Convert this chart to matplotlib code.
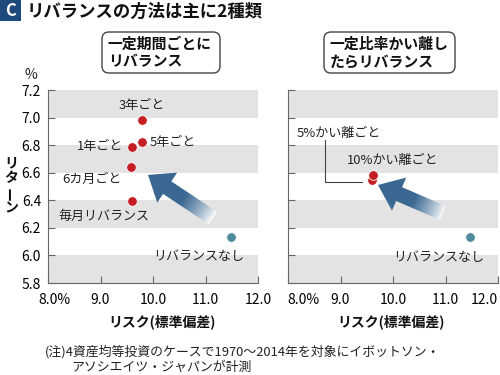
import numpy as np
import matplotlib
matplotlib.use("Agg")
import matplotlib.pyplot as plt
from matplotlib.patches import Polygon, FancyBboxPatch, Rectangle
from matplotlib.transforms import ScaledTranslation

plt.rcParams['font.family'] = ['Noto Sans CJK JP', 'DejaVu Sans']

# ---- data ----
left_labels = ["毎月リバランス", "6カ月ごと", "1年ごと", "5年ごと", "3年ごと"]
left_risk = [9.60, 9.58, 9.60, 9.79, 9.79]
left_return = [6.395, 6.64, 6.79, 6.82, 6.98]
right_labels = ["5%かい離ごと", "10%かい離ごと"]
right_risk = [9.60, 9.62]
right_return = [6.55, 6.58]
none_label = "リバランスなし"
left_none = (11.49, 6.134)
right_none = (11.47, 6.135)
xticks = [8, 9, 10, 11, 12]
xticklabels = ["8.0%", "9.0", "10.0", "11.0", "12.0"]
yticks = [5.8, 6.0, 6.2, 6.4, 6.6, 6.8, 7.0, 7.2]
yticklabels = ["5.8", "6.0", "6.2", "6.4", "6.6", "6.8", "7.0", "7.2"]
bands = [(7.0, 7.2), (6.6, 6.8), (6.2, 6.4), (5.8, 6.0)]

RED = "#c41e24"
TEAL = "#4e8a9a"
BLUE = np.array([0x3b, 0x68, 0x92]) / 255.0
BAND = "#e3e3e3"
SPINE = "#666666"

fig = plt.figure(figsize=(5, 3.75), dpi=100)
axL = fig.add_axes([0.096, 0.2453, 0.42, 0.5147])
axR = fig.add_axes([0.576, 0.2453, 0.42, 0.5147])

for ax, show_y in ((axL, True), (axR, False)):
    ax.set_xlim(8, 12)
    ax.set_ylim(5.8, 7.2)
    for lo, hi in bands:
        ax.axhspan(lo, hi, color=BAND, lw=0, zorder=0)
    for s in ("top", "right"):
        ax.spines[s].set_visible(False)
    for s in ("left", "bottom"):
        ax.spines[s].set_color(SPINE)
        ax.spines[s].set_linewidth(0.8)
    ax.set_xticks(xticks)
    ax.set_xticklabels(xticklabels, fontsize=10)
    ax.set_yticks(yticks)
    if show_y:
        ax.set_yticklabels(yticklabels, fontsize=10)
    else:
        ax.set_yticklabels([])
    ax.tick_params(direction="in", length=5, width=0.8, color=SPINE)
    ax.tick_params(axis="x", pad=7)
    ax.tick_params(axis="y", pad=5)
    ax.set_facecolor("none")

# shift some tick labels like the reference
def shift(lbl, dx):
    lbl.set_transform(lbl.get_transform() + ScaledTranslation(dx / 100, 0, fig.dpi_scale_trans))

shift(axL.get_xticklabels()[0], 6.5)
shift(axR.get_xticklabels()[0], 15)
shift(axR.get_xticklabels()[-1], -14)

ms = 48
axL.scatter(left_risk, left_return, s=ms, color=RED, edgecolor="white", linewidth=0.6, zorder=5)
axL.scatter([left_none[0]], [left_none[1]], s=ms, color=TEAL, edgecolor="white", linewidth=0.6, zorder=5)
axR.scatter(right_risk, right_return, s=ms, color=RED, edgecolor="white", linewidth=0.6, zorder=5)
axR.scatter([right_none[0]], [right_none[1]], s=ms, color=TEAL, edgecolor="white", linewidth=0.6, zorder=5)

fs = 9.4
tc = "#222222"
axL.text(9.79, 7.09, left_labels[4], ha="center", va="center", fontsize=fs, color=tc)
axL.text(9.94, 6.82, left_labels[3], ha="left", va="center", fontsize=fs, color=tc)
axL.text(9.43, 6.79, left_labels[2], ha="right", va="center", fontsize=fs, color=tc)
axL.text(8.27, 6.555, left_labels[1], ha="left", va="center", fontsize=fs, color=tc)
axL.text(8.19, 6.28, left_labels[0], ha="left", va="center", fontsize=fs, color=tc)
axL.text(10.0, 5.99, none_label, ha="left", va="center", fontsize=fs, color=tc)

axR.text(8.17, 6.888, right_labels[0], ha="left", va="center", fontsize=fs, color=tc)
axR.text(9.12, 6.69, right_labels[1], ha="left", va="center", fontsize=fs, color=tc)
axR.text(10.0, 5.985, none_label, ha="left", va="center", fontsize=fs, color=tc)
axR.plot([8.705, 8.705, 9.41], [6.837, 6.533, 6.533], color="#444444", lw=0.8, zorder=3)

# overlay for annotations in pixel coordinates
ov = fig.add_axes([0, 0, 1, 1], zorder=10)
ov.set_xlim(0, 500)
ov.set_ylim(0, 375)
ov.axis("off")
ov.patch.set_alpha(0)

def to_px(ax, x, y):
    return np.array(ax.transData.transform((x, y)))

def gradient_arrow(S, T):
    d = T - S
    L = np.hypot(*d)
    u = d / L
    n = np.array([-u[1], u[0]])
    hl, hw, sw = 23, 18, 7.5
    B = T - u * hl
    pts = np.array([S + n * sw, B + n * sw, B + n * hw, T, B - n * hw, B - n * sw, S - n * sw])
    poly = Polygon(pts, closed=True, facecolor="none", edgecolor="none")
    ov.add_patch(poly)
    x0, y0 = pts.min(axis=0) - 2
    x1, y1 = pts.max(axis=0) + 2
    X, Y = np.meshgrid(np.linspace(x0, x1, 300), np.linspace(y0, y1, 300))
    t = ((X - S[0]) * u[0] + (Y - S[1]) * u[1]) / L
    f = np.clip(t / 0.45, 0, 1)[..., None] ** 0.8
    rgb = (1 - f) * np.ones(3) + f * BLUE
    ov.imshow(rgb, extent=[x0, x1, y0, y1], origin="lower", aspect="auto",
              clip_path=poly, zorder=4, interpolation="bilinear")

gradient_arrow(to_px(axL, 11.14, 6.272), to_px(axL, 9.905, 6.584))
gradient_arrow(to_px(axR, 10.95, 6.308), to_px(axR, 9.714, 6.511))
ov.set_xlim(0, 500)
ov.set_ylim(0, 375)

H = 375
# title
ov.add_patch(Rectangle((0, H - 21), 21, 21, color="#1d4a7a", lw=0))
ov.text(10.5, H - 11, "C", color="white", fontsize=12, fontweight="bold", ha="center", va="center")
ov.text(27, H - 12, "リバランスの方法は主に2種類", fontsize=12.5, fontweight="bold", ha="left", va="center", color="#111111")

# rounded boxes
for (bx0, bx1, txt, tx) in ((102, 220, "一定期間ごとに\nリバランス", 108),
                             (324, 455, "一定比率かい離し\nたらリバランス", 330)):
    ov.add_patch(FancyBboxPatch((bx0, H - 73), bx1 - bx0, 41,
                                boxstyle="round,pad=0,rounding_size=7",
                                facecolor="white", edgecolor="#444444", lw=1.0))
    ov.text(tx, H - 52.5, txt, fontsize=10.7, fontweight="bold", ha="left", va="center",
            linespacing=1.15, color="#111111")

ov.text(31, H - 75, "%", fontsize=10, ha="center", va="center", color="#222222")

# vertical y-axis label
for ch, yc, rot in (("リ", 163, 0), ("タ", 178, 0), ("ー", 193, 90), ("ン", 208, 0)):
    ov.text(11, H - yc, ch, fontsize=10, fontweight="bold", ha="center", va="center", rotation=rot,
            color="#111111")

# x axis labels
ov.text(162, H - 322, "リスク(標準偏差)", fontsize=10, fontweight="bold", ha="center", va="center", color="#111111")
ov.text(391, H - 322, "リスク(標準偏差)", fontsize=10, fontweight="bold", ha="center", va="center", color="#111111")

# note
ov.text(45, H - 352, "(注)4資産均等投資のケースで1970～2014年を対象にイボットソン・", fontsize=9.3, ha="left", va="center", color="#222222")
ov.text(71, H - 367, "アソシエイツ・ジャパンが計測", fontsize=9.3, ha="left", va="center", color="#222222")

fig.savefig("out.png", dpi=100)
